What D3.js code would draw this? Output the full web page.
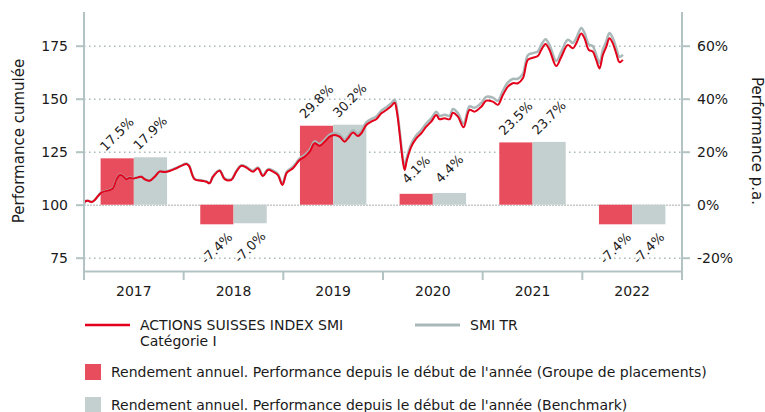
<!DOCTYPE html>
<html>
<head>
<meta charset="utf-8">
<script src="https://cdn.jsdelivr.net/npm/d3@7"></script>
<style>
    body { margin: 0; background: #fff; }
    svg text { font-family: "DejaVu Sans", sans-serif; fill: #1a1a1a; }
</style>
</head>
<body>
<div id="chart"></div>
<script>

// years and annual returns (in %)
let years = ["2017", "2018", "2019", "2020", "2021", "2022"];
let fundReturns = [17.5, -7.4, 29.8, 4.1, 23.5, -7.4];
let benchReturns = [17.9, -7.0, 30.2, 4.4, 23.7, -7.4];

// cumulated performance, months since start of 2017
let months = [0, 0.08, 0.48, 0.89, 1.29, 2.09, 3.09, 3.49, 3.90, 4.30, 4.69, 5.10, 5.50, 5.90, 6.50, 6.91, 7.31, 7.91, 8.51, 9.11,
    9.71, 10.31, 11.12, 11.92, 12.32, 12.64, 13.32, 14.13, 14.73, 15.13, 15.53, 16.33, 16.93, 17.74, 18.34, 18.94, 19.55, 20.34, 20.94, 21.54,
    22.15, 22.75, 23.35, 23.88, 24.43, 25.16, 25.96, 26.56, 27.17, 27.77, 28.37, 28.97, 29.57, 30.17, 30.77, 31.38, 31.78, 32.38, 32.98, 33.39,
    33.99, 34.59, 35.19, 35.80, 36.40, 37.00, 37.40, 37.67, 38.00, 38.32, 38.60, 38.88, 39.41, 40.01, 40.61, 41.21, 41.81, 42.42, 42.81, 43.41,
    44.02, 44.41, 45.02, 45.70, 46.42, 47.02, 47.83, 48.43, 49.23, 49.83, 50.43, 51.03, 51.63, 52.24, 52.84, 53.44, 54.04, 54.64, 55.05, 55.57,
    56.05, 56.86, 57.46, 58.25, 58.86, 59.27, 59.87, 60.26, 60.78, 61.26, 61.67, 62.07, 62.47, 62.88, 63.27, 63.67, 64.08, 64.48, 64.88];

let fundValues = [100.0, 101.4, 101.9, 101.3, 102.2, 105.7, 106.9, 107.7, 111.7, 114.0, 113.5, 112.0, 112.7, 112.3, 112.9, 113.2, 112.0, 111.3, 113.2, 115.6,
    115.4, 115.9, 117.2, 118.7, 119.2, 118.3, 112.0, 111.3, 110.8, 110.1, 113.2, 116.0, 112.1, 111.7, 115.6, 118.3, 117.5, 115.6, 117.2, 113.5,
    116.4, 115.6, 114.0, 109.3, 115.1, 117.2, 121.1, 122.6, 125.0, 129.0, 127.8, 129.7, 132.1, 132.9, 132.1, 129.7, 131.3, 134.0, 132.4, 133.7,
    137.6, 139.2, 140.3, 143.1, 144.7, 146.6, 148.1, 143.9, 133.7, 122.6, 116.4, 121.1, 127.4, 131.3, 133.7, 136.8, 139.2, 142.3, 140.3, 140.8,
    140.3, 143.4, 141.5, 136.5, 144.7, 143.9, 146.2, 149.1, 148.6, 147.1, 151.7, 155.7, 157.3, 157.3, 159.6, 168.3, 169.3, 170.1, 173.0, 175.8,
    173.0, 165.4, 169.7, 175.3, 173.8, 176.1, 180.8, 178.5, 173.0, 172.2, 168.3, 164.3, 170.6, 174.5, 178.5, 176.1, 171.4, 167.2, 168.3];

let benchValues = [100.0, 101.4, 101.9, 101.3, 102.2, 105.8, 107.0, 107.8, 111.8, 114.1, 113.6, 112.1, 112.8, 112.4, 113.0, 113.3, 112.1, 111.4, 113.3, 115.8,
    115.6, 116.1, 117.4, 118.9, 119.4, 118.5, 112.2, 111.5, 111.0, 110.3, 113.4, 116.3, 112.4, 112.0, 115.9, 118.6, 117.8, 116.0, 117.6, 113.9,
    116.8, 116.1, 114.5, 109.8, 115.7, 117.9, 121.8, 123.4, 125.8, 129.8, 128.7, 130.6, 133.0, 133.8, 133.1, 130.7, 132.3, 135.1, 133.5, 134.8,
    138.8, 140.4, 141.6, 144.4, 146.0, 147.9, 149.5, 145.3, 135.1, 124.0, 117.8, 122.5, 128.8, 132.8, 135.2, 138.3, 140.7, 143.9, 141.9, 142.4,
    141.9, 145.1, 143.2, 138.2, 146.4, 145.7, 148.0, 150.9, 150.5, 149.0, 153.7, 157.7, 159.3, 159.4, 161.7, 170.5, 171.5, 172.3, 175.3, 178.1,
    175.3, 167.8, 172.1, 177.8, 176.3, 178.6, 183.4, 181.1, 175.6, 174.8, 170.8, 166.8, 173.1, 177.0, 181.0, 178.6, 173.9, 169.7, 170.8];

let leftTicks = [75, 100, 125, 150, 175];
let rightTicks = [-20, 0, 20, 40, 60];

let seriesNames = ["ACTIONS SUISSES INDEX SMI", "SMI TR"];
let barNames = ["Rendement annuel. Performance depuis le début de l'année (Groupe de placements)",
    "Rendement annuel. Performance depuis le début de l'année (Benchmark)"];

// colors
let red = "#e2001a", redBar = "#e84d5d", greyLine = "#a9b9b9", greyBar = "#c4d0d0", axisCol = "#b3c3c3";

let width = 765, height = 412;
let left = 84, right = 682;

let svg = d3.select("#chart").append("svg")
    .attr("width", width)
    .attr("height", height);

// scales
let x = d3.scaleLinear().domain([0, 72]).range([left, right]);
let xYear = d3.scaleBand().domain(years).range([left, right]);
let yLeft = d3.scaleLinear().domain([75, 175]).range([257.7, 45.7]);
let yRight = d3.scaleLinear().domain([-20, 60]).range([257.7, 45.7]);

// hyphen instead of unicode minus, like the original
let pct = v => v.toFixed(1) + "%";

// gridlines
svg.append("g")
    .attr("class", "grid")
    .attr("transform", `translate(${left},0)`)
    .call(d3.axisLeft(yLeft).tickValues(leftTicks).tickSize(-(right - left)).tickFormat(""))
    .call(g => g.select(".domain").remove())
    .call(g => g.selectAll("line")
        .attr("stroke-width", 1.5)
        .attr("stroke-dasharray", d => d === 100 ? "2,1" : "1.5,3.5")
        .attr("stroke", d => d === 100 ? "#c8c8c8" : "#a7b9b9"));

// bars
let barW = xYear.bandwidth() / 3;
let barGroup = svg.append("g");

years.forEach((yr, i) => {
    let x0 = xYear(yr) + barW / 2;
    [[fundReturns[i], redBar, x0], [benchReturns[i], greyBar, x0 + barW]].forEach(([v, col, bx]) => {
        barGroup.append("rect")
            .attr("x", bx)
            .attr("width", barW)
            .attr("y", yRight(Math.max(0, v)))
            .attr("height", Math.abs(yRight(v) - yRight(0)))
            .attr("fill", col);

        let cx = bx + barW / 2 + 3;
        let ty = v >= 0 ? yRight(v) - 21 : yRight(v) + 27;
        barGroup.append("text")
            .attr("transform", `translate(${cx},${ty}) rotate(-45)`)
            .attr("text-anchor", "middle")
            .attr("font-size", 13)
            .text(pct(v));
    });
});

// lines
let lineData = (vals) => months.map((m, i) => ({m: m, v: vals[i]}));
let line = d3.line()
    .x(d => x(d.m))
    .y(d => yLeft(d.v))
    .curve(d3.curveCatmullRom);

svg.append("path")
    .datum(lineData(benchValues))
    .attr("fill", "none")
    .attr("stroke", greyLine)
    .attr("stroke-width", 2.5)
    .attr("d", line);

svg.append("path")
    .datum(lineData(fundValues))
    .attr("fill", "none")
    .attr("stroke", red)
    .attr("stroke-width", 2)
    .attr("d", line);

// left axis
let axL = svg.append("g")
    .attr("transform", `translate(${left},0)`)
    .call(d3.axisLeft(yLeft).tickValues(leftTicks).tickSize(8).tickPadding(8));
axL.select(".domain").remove();
axL.append("line").attr("y1", 12).attr("y2", 272).attr("stroke", axisCol).attr("stroke-width", 2);

// right axis
let axR = svg.append("g")
    .attr("transform", `translate(${right},0)`)
    .call(d3.axisRight(yRight).tickValues(rightTicks).tickSize(8).tickPadding(7).tickFormat(d => d + "%"));
axR.select(".domain").remove();
axR.append("line").attr("y1", 12).attr("y2", 272).attr("stroke", axisCol).attr("stroke-width", 2);

[axL, axR].forEach(ax => {
    ax.selectAll(".tick line").attr("stroke", axisCol).attr("stroke-width", 2);
    ax.selectAll(".tick text").attr("font-size", 14).attr("fill", "#1a1a1a");
});

// bottom axis with year labels
let axB = svg.append("g")
    .attr("transform", `translate(0,271)`)
    .call(d3.axisBottom(xYear).tickSize(0).tickPadding(15));
axB.select(".domain").attr("stroke", axisCol).attr("stroke-width", 2);
axB.selectAll(".tick text").attr("font-size", 14).attr("fill", "#1a1a1a");
axB.selectAll(".sep")
    .data(years.concat(["end"]))
    .enter().append("line")
    .attr("x1", (d, i) => i < years.length ? xYear(d) : right)
    .attr("x2", (d, i) => i < years.length ? xYear(d) : right)
    .attr("y1", 0)
    .attr("y2", 9)
    .attr("stroke", axisCol)
    .attr("stroke-width", 2);

// axis titles
svg.append("text")
    .attr("transform", `translate(24,141) rotate(-90)`)
    .attr("text-anchor", "middle")
    .attr("font-size", 15)
    .text("Performance cumulée");

svg.append("text")
    .attr("transform", `translate(752,141) rotate(90)`)
    .attr("text-anchor", "middle")
    .attr("font-size", 15)
    .text("Performance p.a.");

// legend
let legend = svg.append("g");
legend.append("line").attr("x1", 85).attr("x2", 130).attr("y1", 325).attr("y2", 325)
    .attr("stroke", red).attr("stroke-width", 2.5);
legend.append("text").attr("x", 140).attr("y", 330).attr("font-size", 14).text(seriesNames[0]);
legend.append("text").attr("x", 140).attr("y", 346).attr("font-size", 14).text("Catégorie I");

legend.append("line").attr("x1", 415).attr("x2", 460).attr("y1", 325).attr("y2", 325)
    .attr("stroke", greyLine).attr("stroke-width", 3);
legend.append("text").attr("x", 470).attr("y", 330).attr("font-size", 14).text(seriesNames[1]);

[[redBar, 364], [greyBar, 397]].forEach(([col, yy], i) => {
    legend.append("rect").attr("x", 85).attr("y", yy).attr("width", 16).attr("height", 16).attr("fill", col);
    legend.append("text").attr("x", 111).attr("y", yy + 13).attr("font-size", 14).text(barNames[i]);
});

</script>
</body>
</html>
